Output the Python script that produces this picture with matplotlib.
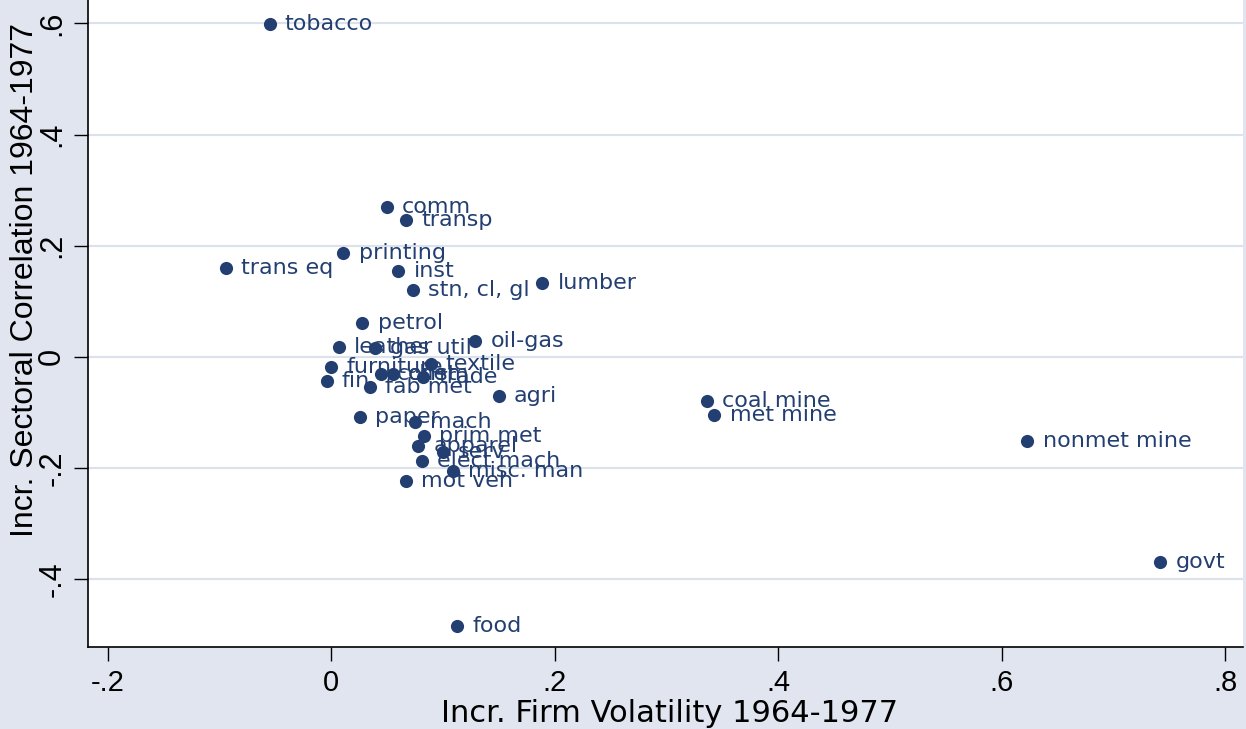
import matplotlib.pyplot as plt
from matplotlib.ticker import FuncFormatter

plt.rcParams['font.family'] = ['Liberation Sans', 'DejaVu Sans']

sectors = ["tobacco", "comm", "transp", "printing", "trans eq", "inst",
           "stn, cl, gl", "lumber", "petrol", "oil-gas", "leather", "gas util",
           "furniture", "textile", "fin", "const", "chem", "trade", "fab met",
           "agri", "paper", "mach", "prim met", "apparel", "serv", "elect mach",
           "misc. man", "mot veh", "food", "coal mine", "met mine",
           "nonmet mine", "govt"]
volatility = [-0.055, 0.050, 0.067, 0.011, -0.094, 0.060,
              0.073, 0.189, 0.028, 0.129, 0.007, 0.039,
              0.000, 0.089, -0.004, 0.045, 0.055, 0.082, 0.035,
              0.150, 0.026, 0.075, 0.083, 0.078, 0.100, 0.081,
              0.109, 0.067, 0.113, 0.336, 0.343,
              0.623, 0.742]
correlation = [0.599, 0.270, 0.246, 0.187, 0.160, 0.155,
               0.121, 0.133, 0.061, 0.029, 0.018, 0.016,
               -0.018, -0.013, -0.043, -0.031, -0.031, -0.036, -0.055,
               -0.070, -0.108, -0.117, -0.143, -0.160, -0.171, -0.188,
               -0.206, -0.223, -0.485, -0.079, -0.104,
               -0.151, -0.369]

bg = '#E1E5EF'
navy = '#233F72'

fig = plt.figure(figsize=(12.46, 7.29), dpi=100, facecolor=bg)
ax = fig.add_axes([0.0706, 0.1125, 0.927, 0.8875])
ax.set_facecolor('white')

ax.scatter(volatility, correlation, s=90, color=navy, zorder=3, linewidths=0)
for name, x, y in zip(sectors, volatility, correlation):
    ax.annotate(name, (x, y), xytext=(11, 0), textcoords='offset points',
                va='center', ha='left', fontsize=16, color=navy, zorder=4,
                family='DejaVu Sans')

ax.set_xlim(-0.2175, 0.816)
ax.set_ylim(-0.522, 0.642)
ax.set_xticks([-0.2, 0, 0.2, 0.4, 0.6, 0.8])
ax.set_yticks([-0.4, -0.2, 0, 0.2, 0.4, 0.6])


def fmt(v, pos):
    if abs(v) < 1e-9:
        return '0'
    s = '%g' % v
    return s.replace('0.', '.')


ax.xaxis.set_major_formatter(FuncFormatter(fmt))
ax.yaxis.set_major_formatter(FuncFormatter(fmt))
ax.grid(axis='y', color='#DCE2EC', linewidth=1.5, zorder=0)
ax.tick_params(axis='both', direction='out', length=10, width=1)
ax.tick_params(axis='x', pad=6)
ax.tick_params(axis='y', pad=5)
for lab in ax.get_xticklabels():
    lab.set_fontsize(21)
for lab in ax.get_yticklabels():
    lab.set_fontsize(22)
    lab.set_rotation(90)
    lab.set_va('center')
for side in ['top', 'right']:
    ax.spines[side].set_visible(False)
for side in ['left', 'bottom']:
    ax.spines[side].set_linewidth(1.2)

fig.text(670 / 1246, 1 - 714 / 729, "Incr. Firm Volatility 1964-1977",
         fontsize=22, family='DejaVu Sans', ha='center', va='center')
fig.text(25 / 1246, 1 - 280 / 729, "Incr. Sectoral Correlation 1964-1977",
         fontsize=23, rotation=90, ha='center', va='center')

fig.savefig('out.png', dpi=100, facecolor=bg)
